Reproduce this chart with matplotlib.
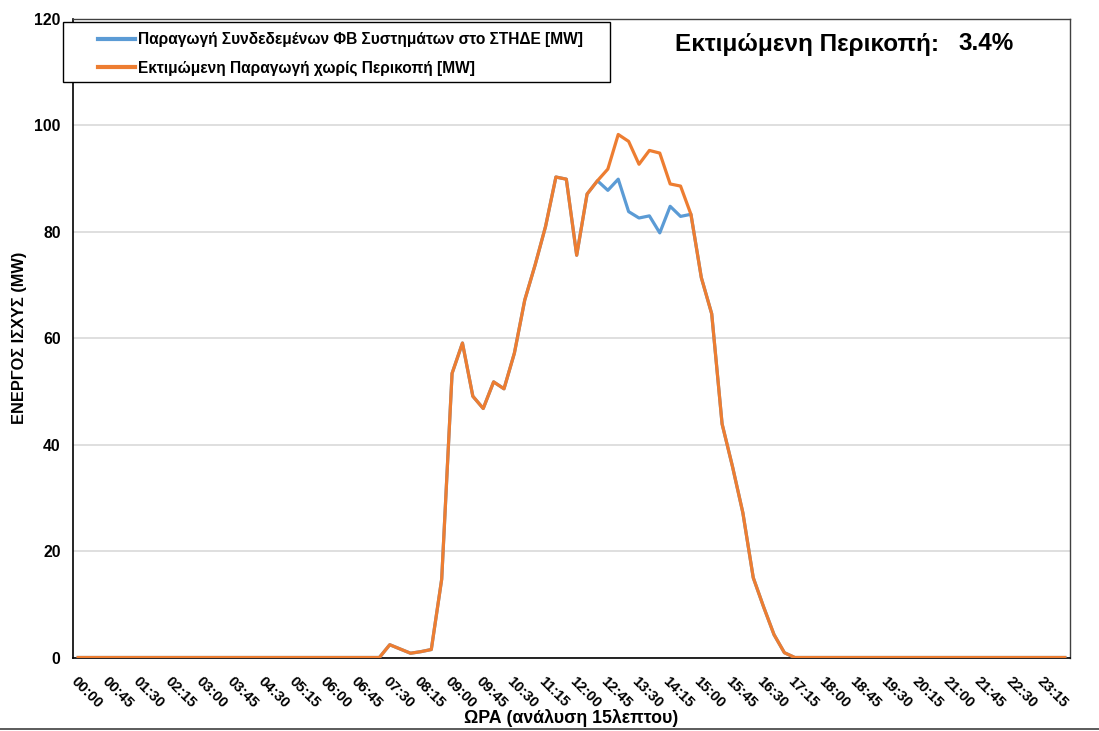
import numpy as np
import matplotlib.pyplot as plt
from matplotlib.lines import Line2D
from matplotlib.patches import Rectangle

plt.rcParams['font.family'] = ['Liberation Sans', 'DejaVu Sans']
plt.rcParams['font.weight'] = 'bold'

# 15-minute time slots for one day
times = [f"{h:02d}:{m:02d}" for h in range(24) for m in (0, 15, 30, 45)]

# estimated production without curtailment (orange)
estimated = [0.0] * 30 + [
    2.4, 1.6, 0.8, 1.1, 1.5, 14.7, 53.4, 59.1, 49.1, 46.8,
    51.8, 50.5, 57.2, 67.2, 73.8, 81.0, 90.3, 89.9, 75.6, 87.1,
    89.6, 91.8, 98.3, 97.0, 92.7, 95.3, 94.8, 89.0, 88.6, 83.3,
    71.4, 64.6, 43.9, 35.9, 27.2, 15.0, 9.5, 4.3, 0.9,
] + [0.0] * 27

# connected PV production (blue) - differs only where curtailed
connected = list(estimated)
connected[51:59] = [87.8, 89.9, 83.8, 82.6, 83.0, 79.8, 84.8, 82.9]

curtail_pct = "3.4%"
label_blue = "Παραγωγή Συνδεδεμένων ΦΒ Συστημάτων στο ΣΤΗΔΕ [MW]"
label_orange = "Εκτιμώμενη Παραγωγή χωρίς Περικοπή [MW]"

blue = '#5b9bd5'
orange = '#ed7d31'

W, H = 1099, 731
fig = plt.figure(figsize=(W / 100, H / 100), dpi=100)
ax = fig.add_axes([73 / W, 1 - 657.5 / H, 997 / W, 638.5 / H])

x = np.arange(len(times))
ax.plot(x, connected, color=blue, lw=2.3, solid_joinstyle='round', zorder=3)
ax.plot(x, estimated, color=orange, lw=2.3, solid_joinstyle='round', zorder=4)

ax.set_xlim(-0.5, len(times) - 0.5)
ax.set_ylim(0, 120)
ax.set_yticks(range(0, 121, 20))
ax.yaxis.grid(True, color='#d9d9d9', lw=1.2)
ax.set_axisbelow(True)

ax.set_xticks(x[::3])
ax.set_xticklabels(times[::3], rotation=-45, ha='left', va='top',
                   rotation_mode='anchor', fontsize=10.5, fontweight='bold')
ax.tick_params(axis='x', length=0, pad=12)
ax.tick_params(axis='y', length=0, pad=9, labelsize=11.3)
for lab in ax.get_yticklabels():
    lab.set_fontweight('bold')

for side in ['top', 'right']:
    ax.spines[side].set_color('#404040')
    ax.spines[side].set_linewidth(1.0)
ax.spines['left'].set_color('black')
ax.spines['bottom'].set_color('black')
ax.spines['left'].set_linewidth(1.2)
ax.spines['bottom'].set_linewidth(1.2)

ax.set_xlabel("ΩΡΑ (ανάλυση 15λεπτου)", fontsize=12.8, fontweight='bold')
ax.set_ylabel("ΕΝΕΡΓΟΣ ΙΣΧΥΣ (MW)", fontsize=11.8, fontweight='bold')
ax.xaxis.set_label_coords(0.5, -(718 - 657.5) / 638.5)
ax.yaxis.set_label_coords(-(73 - 20) / 997, 0.5)
ax.xaxis.label.set_va('center')
ax.yaxis.label.set_va('center')

# legend frame drawn separately to get the wide left padding
fig.add_artist(Rectangle((63 / W, 1 - 82 / H), 547 / W, 60 / H, transform=fig.transFigure,
                         facecolor='white', edgecolor='black', lw=1.0, zorder=5))
handles = [Line2D([0], [0], color=blue, lw=3), Line2D([0], [0], color=orange, lw=3)]
leg = fig.legend(handles, [label_blue, label_orange], loc='upper left',
                 bbox_to_anchor=(98 / W, 1 - 32 / H), frameon=False, fontsize=11.2,
                 handlelength=2.4, handletextpad=0.2, borderpad=0,
                 labelspacing=0.85, borderaxespad=0)
leg.set_zorder(6)
for t in leg.get_texts():
    t.set_fontweight('bold')

fig.text(675 / W, 1 - 44 / H, "Εκτιμώμενη Περικοπή:", fontsize=17.5,
         fontweight='bold', va='center', ha='left')
fig.text(958 / W, 1 - 44 / H, curtail_pct, fontsize=17.5,
         fontweight='bold', va='center', ha='left')

fig.add_artist(Line2D([0, 1], [2 / H, 2 / H], color='#404040', lw=1.2,
                      transform=fig.transFigure))

fig.savefig('out.png', dpi=100)
